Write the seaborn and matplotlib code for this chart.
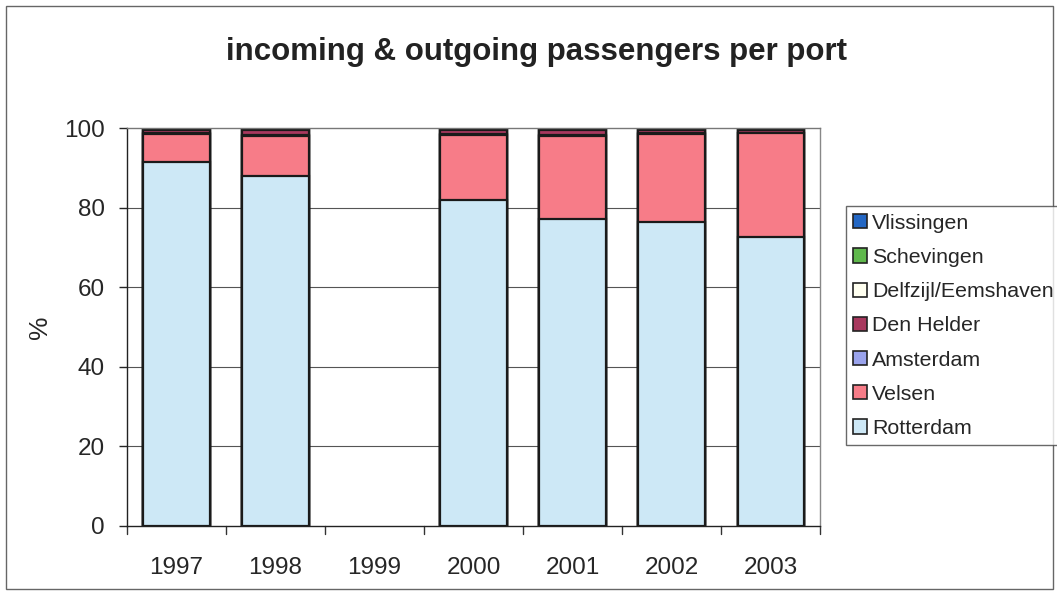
import numpy as np
import pandas as pd
import matplotlib
matplotlib.use("Agg")
import matplotlib.pyplot as plt
from matplotlib.patches import Patch, Rectangle
import seaborn as sns

years = ["1997", "1998", "1999", "2000", "2001", "2002", "2003"]
rotterdam = [91.5, 87.9, np.nan, 81.9, 77.1, 76.4, 72.7]
velsen = [7.0, 10.2, np.nan, 16.3, 20.9, 22.1, 26.0]
amsterdam = [0.2, 0.2, np.nan, 0.2, 0.2, 0.2, 0.1]
den_helder = [0.9, 1.3, np.nan, 1.2, 1.4, 0.7, 0.6]
delfzijl = [0.2, 0.2, np.nan, 0.2, 0.2, 0.2, 0.2]
schevingen = [0.1, 0.1, np.nan, 0.1, 0.1, 0.3, 0.3]
vlissingen = [0.1, 0.1, np.nan, 0.1, 0.1, 0.1, 0.1]

ports = ["Rotterdam", "Velsen", "Amsterdam", "Den Helder",
         "Delfzijl/Eemshaven", "Schevingen", "Vlissingen"]
shares = [rotterdam, velsen, amsterdam, den_helder, delfzijl, schevingen, vlissingen]
colors = ["#cde8f6", "#f77c88", "#9aa3ec", "#a8385e",
          "#fffff0", "#5fb84c", "#2367c4"]

df = pd.DataFrame(dict(zip(ports, shares)), index=years)
cum = df.cumsum(axis=1)

sns.set_style("white")
plt.rcParams["font.family"] = ["Liberation Sans", "DejaVu Sans"]

fig = plt.figure(figsize=(10.57, 5.93), dpi=100)
ax = fig.add_axes([0.120, 0.113, 0.656, 0.671])

# stacked bars: draw cumulative tops from the outermost layer inwards
for port, col in reversed(list(zip(ports, colors))):
    data = pd.DataFrame({"year": years, "top": cum[port].values})
    sns.barplot(data=data, x="year", y="top", order=years, color=col,
                width=0.67, edgecolor="#1a1a1a", linewidth=1.6,
                saturation=1, ax=ax, errorbar=None)

ax.set_ylim(0, 100)
ax.set_xlim(-0.5, len(years) - 0.5)
ax.set_yticks([0, 20, 40, 60, 80, 100])
ax.set_yticklabels(["0", "20", "40", "60", "80", "100"], fontsize=17.5)
ax.set_xticks(range(len(years)))
ax.set_xticklabels(years, fontsize=17.5)
ax.tick_params(axis="x", length=0, pad=22)
ax.tick_params(axis="y", length=6, direction="out", left=True, width=1, pad=10)
for b in np.arange(-0.5, len(years), 1.0):
    ax.plot([b, b], [0, -2.0], color="#333333", lw=1, clip_on=False)
ax.set_xlabel("")
ax.set_ylabel("%", fontsize=19)
ax.yaxis.set_label_coords(-0.108, 0.5)

for y in [20, 40, 60, 80]:
    ax.axhline(y, color="#555555", lw=0.8, zorder=0)
ax.spines["top"].set_color("#777777")
ax.spines["right"].set_color("#888888")
ax.spines["left"].set_color("#222222")
ax.spines["bottom"].set_color("#222222")
for s in ax.spines.values():
    s.set_visible(True)
    s.set_linewidth(1.0)

fig.text(0.508, 0.913, "incoming & outgoing passengers per port",
         ha="center", va="center", fontsize=22.5, fontweight="bold",
         color="#222222")

handles = [Patch(facecolor=c, edgecolor="#222222", linewidth=1.2, label=p)
           for p, c in zip(ports, colors)][::-1]
leg = fig.legend(handles=handles, loc="upper left",
                 bbox_to_anchor=(0.800, 0.652), fontsize=15.4,
                 frameon=True, fancybox=False, edgecolor="#444444",
                 handlelength=0.65, handleheight=0.65, handletextpad=0.25,
                 labelspacing=0.71, borderpad=0.35, borderaxespad=0)
leg.get_frame().set_linewidth(1.0)

fig.patches.append(Rectangle((0.006, 0.006), 0.99, 0.984, transform=fig.transFigure,
                             fill=False, edgecolor="#666666", lw=1.0))

fig.savefig("out.png", dpi=100)
